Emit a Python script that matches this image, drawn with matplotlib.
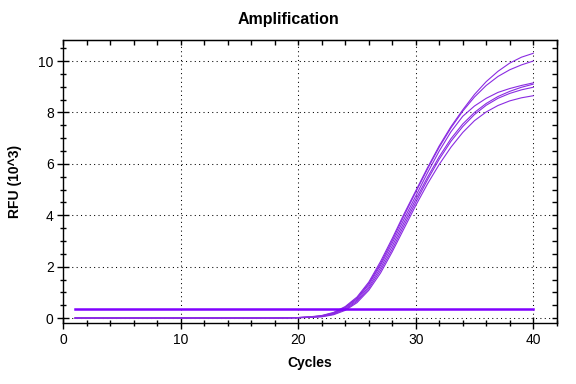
import matplotlib
matplotlib.use('Agg')
import matplotlib.pyplot as plt
from matplotlib.ticker import MultipleLocator

plt.rcParams['font.family'] = ['Liberation Sans', 'DejaVu Sans']

# cycle numbers and RFU (x10^3) readings for each well
cycles = list(range(1, 41))

well_a = [0.00, 0.00, 0.00, 0.00, 0.00, 0.00, 0.00, 0.00, 0.00, 0.00,
          0.00, 0.00, 0.00, 0.00, 0.00, 0.00, 0.00, 0.00, 0.01, 0.02,
          0.05, 0.10, 0.22, 0.45, 0.82, 1.40, 2.20, 3.10, 4.05, 4.95,
          5.85, 6.70, 7.45, 8.10, 8.70, 9.20, 9.60, 9.92, 10.15, 10.30]
well_b = [0.00, 0.00, 0.00, 0.00, 0.00, 0.00, 0.00, 0.00, 0.00, 0.00,
          0.00, 0.00, 0.00, 0.00, 0.00, 0.00, 0.00, 0.00, 0.01, 0.02,
          0.04, 0.09, 0.20, 0.42, 0.78, 1.35, 2.12, 3.02, 3.98, 4.90,
          5.80, 6.65, 7.40, 8.05, 8.60, 9.05, 9.40, 9.66, 9.85, 10.00]
well_c = [0.00, 0.00, 0.00, 0.00, 0.00, 0.00, 0.00, 0.00, 0.00, 0.00,
          0.00, 0.00, 0.00, 0.00, 0.00, 0.00, 0.00, 0.00, 0.01, 0.02,
          0.04, 0.08, 0.19, 0.40, 0.75, 1.30, 2.05, 2.92, 3.85, 4.75,
          5.65, 6.50, 7.25, 7.85, 8.25, 8.55, 8.78, 8.93, 9.05, 9.15]
well_d = [0.00, 0.00, 0.00, 0.00, 0.00, 0.00, 0.00, 0.00, 0.00, 0.00,
          0.00, 0.00, 0.00, 0.00, 0.00, 0.00, 0.00, 0.00, 0.01, 0.02,
          0.03, 0.07, 0.17, 0.36, 0.70, 1.22, 1.95, 2.80, 3.72, 4.62,
          5.48, 6.28, 6.98, 7.55, 8.00, 8.35, 8.62, 8.82, 8.98, 9.10]
well_e = [0.00, 0.00, 0.00, 0.00, 0.00, 0.00, 0.00, 0.00, 0.00, 0.00,
          0.00, 0.00, 0.00, 0.00, 0.00, 0.00, 0.00, 0.00, 0.01, 0.02,
          0.03, 0.06, 0.15, 0.33, 0.65, 1.15, 1.85, 2.68, 3.60, 4.50,
          5.38, 6.18, 6.88, 7.45, 7.92, 8.28, 8.55, 8.74, 8.88, 8.98]
well_f = [0.00, 0.00, 0.00, 0.00, 0.00, 0.00, 0.00, 0.00, 0.00, 0.00,
          0.00, 0.00, 0.00, 0.00, 0.00, 0.00, 0.00, 0.00, 0.00, 0.01,
          0.03, 0.05, 0.13, 0.30, 0.60, 1.08, 1.75, 2.58, 3.48, 4.38,
          5.22, 5.98, 6.65, 7.22, 7.68, 8.02, 8.27, 8.45, 8.57, 8.65]
wells = [well_a, well_b, well_c, well_d, well_e, well_f]

threshold = 0.34

fig = plt.figure(figsize=(5.76, 3.84), dpi=100)
ax = fig.add_axes([0.11, 0.1576, 0.8565, 0.739])

for w in wells:
    ax.plot(cycles, w, color='#8a2be2', lw=0.8)
ax.plot([cycles[0], cycles[-1]], [threshold, threshold], color='#8000ff', lw=1.8)

ax.set_xlim(0, 42)
ax.set_ylim(-0.21, 10.83)
ax.xaxis.set_major_locator(MultipleLocator(10))
ax.xaxis.set_minor_locator(MultipleLocator(2))
ax.yaxis.set_major_locator(MultipleLocator(2))
ax.yaxis.set_minor_locator(MultipleLocator(0.5))
ax.grid(True, which='major', color='black', lw=0.75, linestyle=(0, (1, 3.2)))

ax.tick_params(which='major', direction='inout', length=8, width=1, labelsize=10, pad=3)
ax.tick_params(which='minor', direction='inout', length=4.5, width=1)
for s in ax.spines.values():
    s.set_linewidth(1)

# ticks on the top and right edges point inward, no labels
top = ax.secondary_xaxis('top')
top.xaxis.set_major_locator(MultipleLocator(10))
top.xaxis.set_minor_locator(MultipleLocator(2))
top.tick_params(which='both', direction='in', length=3.5, width=1, labeltop=False)
right = ax.secondary_yaxis('right')
right.yaxis.set_major_locator(MultipleLocator(2))
right.yaxis.set_minor_locator(MultipleLocator(0.5))
right.tick_params(which='both', direction='in', length=3.5, width=1, labelright=False)

ax.set_xlabel('Cycles', fontsize=10, fontweight='bold', labelpad=6)
ax.set_ylabel('RFU (10^3)', fontsize=10, fontweight='bold', labelpad=12)
fig.text(0.5, 0.95, 'Amplification', ha='center', va='center',
         fontsize=11.5, fontweight='bold')

fig.savefig('out.png', dpi=100)
